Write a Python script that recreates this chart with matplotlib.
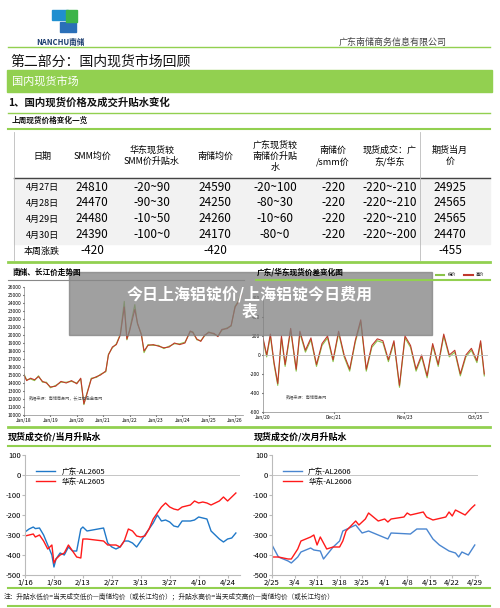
import matplotlib
matplotlib.use("Agg")
import matplotlib.pyplot as plt
from matplotlib.patches import Rectangle

plt.rcParams['font.family'] = ['Noto Sans CJK SC', 'DejaVu Sans']
plt.rcParams['axes.unicode_minus'] = False

W, H = 500, 608
GREEN = '#92d050'

# ---- table data ----
col_heads = ['日期', 'SMM均价', '华东现货较\nSMM价升贴水', '南储均价', '广东现货较\n南储价升贴\n水',
             '南储价\n/smm价', '现货成交：广\n东/华东', '期货当月\n价']
row_dates = ['4月27日', '4月28日', '4月29日', '4月30日']
smm = ['24810', '24470', '24480', '24390']
hd_spread = ['-20~90', '-90~30', '-10~50', '-100~0']
nc = ['24590', '24250', '24260', '24170']
gd_spread = ['-20~100', '-80~30', '-10~60', '-80~0']
nc_smm = ['-220', '-220', '-220', '-220']
deal = ['-220~-210', '-220~-210', '-220~-210', '-220~-200']
fut = ['24925', '24565', '24565', '24470']
week_chg = ['本周涨跌', '-420', '', '-420', '', '', '', '-455']

# ---- 南储/长江 price history (year, price) ----
hist_x = [2018.0, 2018.1, 2018.25, 2018.4, 2018.55, 2018.7, 2018.85, 2019.0, 2019.2, 2019.4, 2019.6, 2019.8,
          2020.0, 2020.15, 2020.27, 2020.4, 2020.55, 2020.75, 2020.9, 2021.1, 2021.2, 2021.35, 2021.5,
          2021.65, 2021.8, 2021.9, 2022.0, 2022.2, 2022.3, 2022.45, 2022.55, 2022.7, 2022.9, 2023.1, 2023.3,
          2023.5, 2023.7, 2023.9, 2024.1, 2024.3, 2024.4, 2024.55, 2024.7, 2024.85, 2025.0, 2025.2,
          2025.35, 2025.5, 2025.7, 2025.85, 2026.0, 2026.1, 2026.25]
hist_nc = [15000, 14300, 14600, 14400, 14800, 14200, 14000, 13500, 13600, 14200, 14000, 14300,
           13900, 14600, 11400, 12800, 14500, 14800, 15000, 15500, 17500, 18500, 18800,
           20000, 23500, 19500, 20500, 23200, 21500, 20000, 18000, 18700, 18800, 18600, 18400,
           18500, 19000, 18800, 19000, 20500, 20300, 19500, 19200, 20000, 20300, 20200,
           19800, 20700, 20800, 21200, 23500, 24000, 25000]
hist_cj = [15100, 14400, 14500, 14300, 14900, 14100, 14100, 13400, 13700, 14100, 14100, 14200,
           14000, 14500, 11300, 12900, 14600, 14700, 15100, 15400, 17600, 18400, 18900,
           20100, 24200, 19400, 20600, 23800, 21400, 20100, 17800, 18800, 18700, 18700, 18300,
           18600, 18900, 18900, 19100, 20400, 20400, 19400, 19300, 19900, 20400, 20100,
           19900, 20600, 20900, 21100, 23600, 24100, 25200]

# ---- 广东/华东 spread (year, value) ----
spr_x = [2020.0, 2020.1, 2020.2, 2020.3, 2020.4, 2020.5, 2020.6, 2020.75, 2020.9, 2021.0, 2021.15, 2021.3,
         2021.45, 2021.6, 2021.75, 2021.9, 2022.05, 2022.2, 2022.35, 2022.5, 2022.65, 2022.8, 2022.95,
         2023.1, 2023.25, 2023.4, 2023.55, 2023.7, 2023.85, 2024.0, 2024.15, 2024.3, 2024.45, 2024.6,
         2024.75, 2024.9, 2025.05, 2025.2, 2025.35, 2025.5, 2025.65, 2025.8, 2025.9, 2026.0]
spr_v = [180, 0, 220, -80, -300, 200, -100, 280, -150, 250, 50, 180, -100, 120, 200, -50, 250, 0,
         -150, 150, 370, -150, 100, 170, 150, -50, 150, -320, 200, 100, -150, 0, -220, 120, -100,
         220, 0, 50, -200, 0, 70, -60, 150, -200]

# ---- 当月升贴水 (days from 1/16) ----
m_days = [0, 2, 4, 5, 7, 9, 11, 13, 14, 15, 17, 19, 21, 23, 25, 27, 28, 30, 38, 40, 42, 44, 46, 48, 50,
          52, 54, 56, 58, 60, 62, 64, 66, 68, 70, 72, 74, 76, 78, 80, 82, 84, 86, 88, 90, 92, 94, 96,
          98, 100, 102]
gd_2605 = [-285, -270, -260, -268, -265, -300, -350, -400, -460, -420, -390, -400, -360, -380, -380,
           -270, -260, -280, -265, -340, -360, -370, -360, -330, -330, -340, -360, -330, -300, -270,
           -240, -200, -230, -225, -235, -255, -260, -230, -230, -230, -225, -210, -215, -220, -280,
           -300, -320, -335, -320, -315, -290]
hd_2605 = [-305, -300, -295, -310, -300, -330, -370, -350, -440, -420, -400, -390, -350, -380, -410,
           -415, -320, -320, -330, -350, -350, -350, -360, -330, -270, -280, -305, -310, -305, -270,
           -220, -190, -160, -140, -160, -170, -175, -160, -155, -150, -130, -140, -135, -140, -150,
           -140, -130, -110, -130, -110, -90]
m_ticks = ['1/16', '1/30', '2/13', '2/27', '3/13', '3/27', '4/10', '4/24']

# ---- 次月升贴水 (days from 2/25) ----
gd6_days = [0, 2, 5, 6, 8, 9, 12, 13, 15, 16, 19, 21, 22, 26, 28, 30, 33, 36, 37, 43, 45, 48, 50, 52,
            55, 57, 58, 59, 61, 63]
gd_2606 = [-350, -410, -430, -440, -410, -385, -365, -375, -380, -420, -360, -330, -280, -250, -290,
           -280, -300, -320, -290, -295, -270, -270, -320, -350, -380, -390, -410, -385, -400, -350]
hd6_days = [0, 2, 5, 6, 8, 9, 12, 13, 14, 15, 17, 19, 21, 22, 23, 26, 27, 29, 30, 33, 35, 36, 37, 41,
            42, 43, 47, 48, 50, 54, 55, 56, 57, 60, 62, 63]
hd_2606 = [-410, -410, -420, -420, -370, -330, -310, -300, -350, -310, -370, -360, -360, -330, -280,
           -230, -250, -220, -190, -230, -220, -235, -220, -210, -190, -200, -185, -210, -225, -210,
           -185, -205, -175, -200, -165, -150]
n_ticks = ['2/25', '3/4', '3/11', '3/18', '3/25', '4/1', '4/8', '4/15', '4/22', '4/29']

fig = plt.figure(figsize=(5, 6.08), dpi=100)


def fx(x):
    return x / W


def fy(y):
    return 1 - y / H


def txt(x, y, s, **kw):
    fig.text(fx(x), fy(y), s, va='center', **kw)


def hline(y, x0=8, x1=492, lw=1.5, c=GREEN):
    fig.add_artist(plt.Line2D([fx(x0), fx(x1)], [fy(y), fy(y)], color=c, lw=lw))


def axes_px(x0, y0, x1, y1):
    return fig.add_axes([fx(x0), fy(y1), fx(x1 - x0), (y1 - y0) / H])


# header
fig.add_artist(Rectangle((fx(52), fy(20)), fx(16), 10 / H, color='#1f8fd0'))
fig.add_artist(Rectangle((fx(60), fy(32)), fx(16), 10 / H, color='#2a6fb8'))
fig.add_artist(Rectangle((fx(66), fy(22)), fx(11), 12 / H, color='#3cb44a'))
txt(36, 42, 'NANCHU南储', fontsize=5.5, weight='bold', color='#1a3c6e')
txt(447, 42, '广东南储商务信息有限公司', fontsize=6.5, color='#444', ha='right')
hline(47, 8, 490, 1)
txt(10, 62, '第二部分：国内现货市场回顾', fontsize=10, color='#111')
fig.add_artist(Rectangle((fx(7), fy(92)), fx(485), 22 / H, color=GREEN))
txt(12, 81, '国内现货市场', fontsize=8, color='white')
txt(8, 103, '1、国内现货价格及成交升贴水变化', fontsize=7.5, weight='bold', color='#111')
hline(113, 8, 490, 1)
txt(12, 120, '上周现货价格变化一览', fontsize=5.5, weight='bold', color='#111')
hline(129, 8, 490, 1.5)

# table
cols = [42, 92, 152, 215, 275, 333, 390, 450]
fig.add_artist(Rectangle((fx(14), fy(244)), fx(476), 66 / H, color='#f2f2f2'))
for cx, h in zip(cols, col_heads):
    txt(cx, 156, h, fontsize=6.5, ha='center', linespacing=1.3)
hline(178, 14, 490, 1, '#444')
rows = list(zip(row_dates, smm, hd_spread, nc, gd_spread, nc_smm, deal, fut))
for i, r in enumerate(rows):
    y = 187 + 16 * i
    for cx, v in zip(cols, r):
        txt(cx, y, v, fontsize=6.5 if i >= 0 and cx == 42 else 8.5, ha='center')
for cx, v in zip(cols, week_chg):
    txt(cx - (0 if cx != 42 else 0), 251, v, fontsize=6.5 if cx == 42 else 8.5, ha='center')
fig.add_artist(plt.Line2D([fx(14), fx(14)], [fy(132), fy(260)], color='#bbb', lw=0.6))
fig.add_artist(plt.Line2D([fx(420), fx(420)], [fy(132), fy(260)], color='#bbb', lw=0.6))
hline(262, 8, 490, 2)

# small charts
txt(13, 272, '南储、长江价走势图', fontsize=5.5, weight='bold')
txt(257, 272, '广东/华东现货价差变化图', fontsize=5.5, weight='bold')
hline(280, 8, 244, 0.8, '#888')
hline(280, 256, 490, 1.5)
hline(427, 8, 490, 2)

ax1 = axes_px(24, 287, 243, 415)
ax1.plot(hist_x, hist_cj, color='#8bc34a', lw=0.8)
ax1.plot(hist_x, hist_nc, color='#c0392b', lw=0.8)
ax1.set_xlim(2018, 2026.3)
ax1.set_ylim(10000, 26000)
ax1.set_yticks(range(10000, 26001, 1000))
ax1.set_xticks(range(2018, 2027))
ax1.set_xticklabels(['Jan/%d' % (y % 100) for y in range(2018, 2027)])
ax1.text(0.02, 0.12, '数据来源：南储商务网，长江有色金属网', transform=ax1.transAxes, fontsize=3, color='#555')

ax2 = axes_px(263, 298, 488, 412)
ax2.plot(spr_x, [v - 20 for v in spr_v], color='#8bc34a', lw=0.8)
ax2.plot(spr_x, spr_v, color='#c0392b', lw=0.8)
ax2.axhline(0, color='#bbb', lw=0.6)
ax2.set_xlim(2020, 2026.1)
ax2.set_ylim(-600, 600)
ax2.set_yticks(range(-600, 601, 200))
ax2.set_xticks([2020, 2021.92, 2023.83, 2025.75])
ax2.set_xticklabels(['Jan/20', 'Dec/21', 'Nov/23', 'Oct/25'])
ax2.text(0.1, 0.12, '数据来源：南储商务网', transform=ax2.transAxes, fontsize=3, color='#555')
ax2.plot([], [], color='#8bc34a', label='低价')
ax2.plot([], [], color='#c0392b', label='高价')
ax2.legend(loc='upper right', bbox_to_anchor=(1.0, 1.25), ncol=2, fontsize=3, frameon=False)

for a in (ax1, ax2):
    a.tick_params(labelsize=3.5, length=1, pad=1)
    for s in ('top', 'right'):
        a.spines[s].set_visible(False)
    for s in ('left', 'bottom'):
        a.spines[s].set_color('#888')
        a.spines[s].set_linewidth(0.5)

# bottom charts
txt(8, 437, '现货成交价/当月升贴水', fontsize=6.5, weight='bold')
txt(254, 437, '现货成交价/次月升贴水', fontsize=6.5, weight='bold')
hline(446, 8, 490, 1.5)
hline(588, 8, 490, 1.5)
hline(606, 8, 490, 1.5)
txt(4, 597, '注：升贴水低价=当天成交低价—南储均价（或长江均价）；升贴水高价=当天成交高价—南储均价（或长江均价）',
    fontsize=4.8, color='#222')

ax3 = axes_px(25, 455, 240, 575)
ax3.plot(m_days, gd_2605, color='#1f78c8', lw=1, label='广东-AL2605')
ax3.plot(m_days, hd_2605, color='#ff1a1a', lw=1, label='华东-AL2605')
ax3.set_xlim(0, 104)
ax3.set_xticks(range(0, 99, 14))
ax3.set_xticklabels(m_ticks)

ax4 = axes_px(272, 455, 478, 575)
ax4.plot(gd6_days, gd_2606, color='#4a86d0', lw=1, label='广东-AL2606')
ax4.plot(hd6_days, hd_2606, color='#ff1a1a', lw=1, label='华东-AL2606')
ax4.set_xlim(0, 64)
ax4.set_xticks(range(0, 64, 7))
ax4.set_xticklabels(n_ticks)

for a in (ax3, ax4):
    a.set_ylim(-500, 100)
    a.set_yticks(range(-500, 101, 100))
    a.axhline(0, color='#bbb', lw=0.6)
    a.tick_params(labelsize=5.5, length=2, pad=1, color='#bbb')
    for s in ('top', 'right'):
        a.spines[s].set_visible(False)
    for s in ('left', 'bottom'):
        a.spines[s].set_color('#bbb')
    a.legend(loc='upper left', bbox_to_anchor=(0.02, 0.95), fontsize=5.5, frameon=False,
             handlelength=2.5, labelspacing=0.3)

# overlay banner
fig.add_artist(Rectangle((fx(69), fy(335)), fx(363), 63 / H, color='#808080', alpha=0.75))
txt(250, 303, '今日上海铝锭价/上海铝锭今日费用\n表', fontsize=11.5, weight='bold', color='white',
    ha='center', linespacing=1.1)

fig.savefig('out.png', dpi=100)
